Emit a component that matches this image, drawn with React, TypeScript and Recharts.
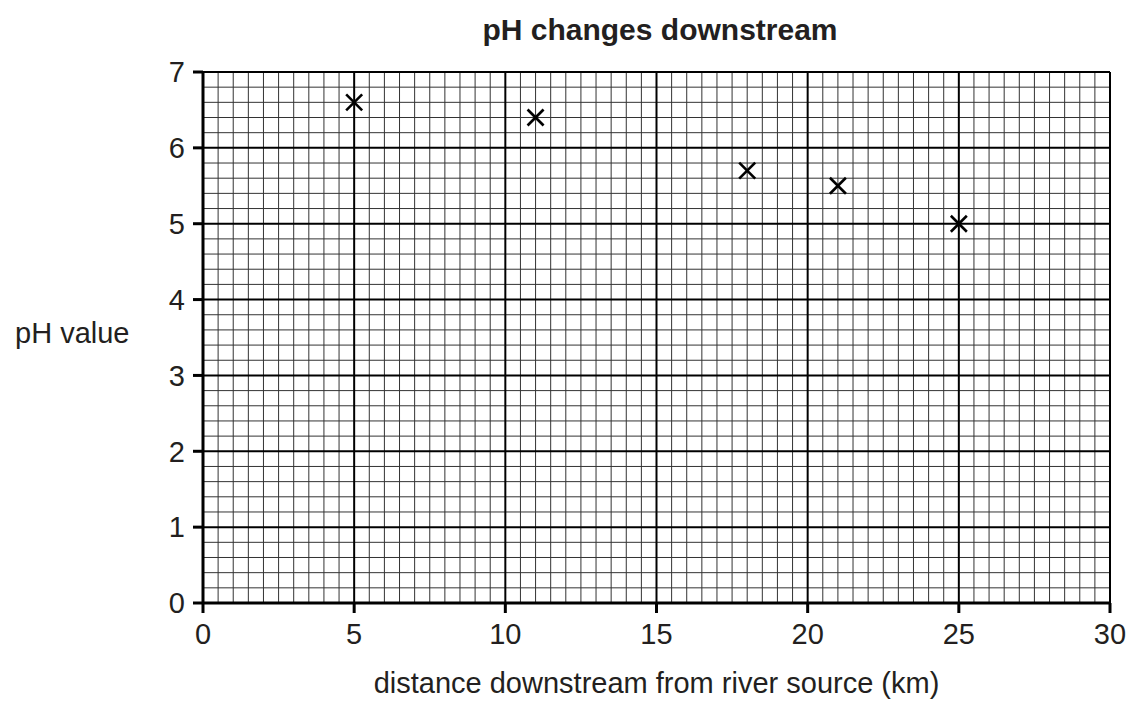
import React from 'react';
import {
  ScatterChart,
  Scatter,
  XAxis,
  YAxis,
  ReferenceLine,
} from 'recharts';

const distances = [5, 11, 18, 21, 25];
const phValues = [6.6, 6.4, 5.7, 5.5, 5.0];

const xTicks = [0, 5, 10, 15, 20, 25, 30];
const yTicks = [0, 1, 2, 3, 4, 5, 6, 7];

// graph paper: minor lines every 0.5 km and every 0.2 pH
const xMinor: number[] = [];
for (let i = 1; i < 60; i++) if (i % 10 !== 0) xMinor.push(i / 2);
const yMinor: number[] = [];
for (let i = 1; i < 35; i++) if (i % 5 !== 0) yMinor.push(i / 5);

const points = distances.map((d, i) => ({ x: d, y: phValues[i] }));

const TEXT = '#231f20';
const FONT = '"Liberation Sans", Arial, sans-serif';
const SIZE = 29;

const Cross = (props: any) => {
  const { cx, cy } = props;
  const s = 8;
  return (
    <g stroke="#000" strokeWidth={2.6}>
      <line x1={cx - s} y1={cy - s} x2={cx + s} y2={cy + s} />
      <line x1={cx - s} y1={cy + s} x2={cx + s} y2={cy - s} />
    </g>
  );
};

const tickStyle = { fill: TEXT, fontSize: SIZE, fontFamily: FONT };

export default function App() {
  return (
    <div style={{ position: 'absolute', left: 0, top: 0, width: 1133, height: 701, background: '#fff' }}>
      <div
        style={{
          position: 'absolute',
          top: 13,
          left: 0,
          width: 1320,
          textAlign: 'center',
          fontFamily: FONT,
          fontWeight: 'bold',
          fontSize: 30,
          color: TEXT,
        }}
      >
        pH changes downstream
      </div>
      <ScatterChart width={1133} height={701} margin={{ top: 72, right: 23, bottom: 0, left: 0 }}>
        <XAxis
          type="number"
          dataKey="x"
          domain={[0, 30]}
          ticks={xTicks}
          height={98}
          tickSize={10}
          tickMargin={10}
          stroke="#000"
          strokeWidth={3}
          tick={tickStyle}
          allowDataOverflow
          label={{
            value: 'distance downstream from river source (km)',
            position: 'insideBottom',
            offset: 8,
            style: { fill: TEXT, fontSize: SIZE, fontFamily: FONT },
          }}
        />
        <YAxis
          type="number"
          dataKey="y"
          domain={[0, 7]}
          ticks={yTicks}
          width={203}
          tickSize={10}
          tickMargin={8}
          stroke="#000"
          strokeWidth={3}
          tick={tickStyle}
          allowDataOverflow
          label={{
            value: 'pH value',
            position: 'insideLeft',
            offset: 15,
            angle: 0,
            dy: -5,
            style: { fill: TEXT, fontSize: SIZE, fontFamily: FONT, textAnchor: 'start' },
          }}
        />
        {xMinor.map((v) => (
          <ReferenceLine key={`xm${v}`} x={v} stroke="#333" strokeWidth={1} />
        ))}
        {yMinor.map((v) => (
          <ReferenceLine key={`ym${v}`} y={v} stroke="#333" strokeWidth={1} />
        ))}
        {xTicks.slice(1).map((v) => (
          <ReferenceLine key={`xM${v}`} x={v} stroke="#000" strokeWidth={2} />
        ))}
        {yTicks.slice(1).map((v) => (
          <ReferenceLine key={`yM${v}`} y={v} stroke="#000" strokeWidth={2} />
        ))}
        <Scatter data={points} shape={<Cross />} isAnimationActive={false} />
      </ScatterChart>
    </div>
  );
}
